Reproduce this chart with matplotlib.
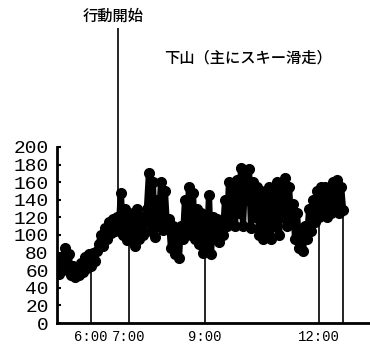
import numpy as np
import matplotlib.pyplot as plt

plt.rcParams['font.family'] = ['Noto Sans CJK JP', 'DejaVu Sans']

# heart rate readings, regular samples from 5:06 to 12:38
start_time = 5 + 6 / 60
end_time = 12 + 38 / 60
heart_rate = [62, 56, 75, 60, 85, 62, 78, 55, 65, 52, 60, 54, 68, 58, 75, 62, 78, 65,
              80, 70, 82, 90, 100, 88, 108, 95, 115, 102, 118, 105, 120, 110, 148, 100,
              130, 94, 120, 100, 125, 88, 130, 95, 120, 100, 115, 130, 170, 105, 160, 98,
              140, 110, 160, 106, 150, 110, 118, 85, 110, 78, 100, 74, 110, 95, 140, 105,
              155, 100, 148, 95, 130, 90, 125, 80, 115, 85, 145, 78, 120, 95, 118, 92,
              110, 100, 140, 110, 160, 120, 150, 110, 162, 125, 176, 110, 165, 140, 175,
              108, 160, 120, 155, 100, 150, 95, 140, 105, 155, 95, 145, 110, 160, 100,
              150, 120, 165, 110, 155, 115, 135, 95, 125, 85, 100, 82, 110, 95, 130, 105,
              140, 115, 150, 120, 155, 130, 155, 120, 150, 125, 160, 130, 162, 125, 155, 128]
times = np.linspace(start_time, end_time, len(heart_rate))

mark_times = [6.0, 7.0, 9.0, 12.0, end_time]
xtick_times = [6.0, 7.0, 9.0, 12.0]
xtick_labels = ['6:00', '7:00', '9:00', '12:00']
action_start = 6 + 43 / 60
yticks = list(range(0, 201, 20))

fig = plt.figure(figsize=(3.7, 3.52), dpi=100)
ax = fig.add_axes([57 / 370, 29 / 352, 313 / 370, 323 / 352])

ax.plot(times, heart_rate, color='black', lw=4.5, marker='o', ms=7, zorder=3)

mark_tops = np.interp(mark_times, times, heart_rate)
ax.vlines(mark_times, 0, mark_tops, color='black', lw=1.2)
ax.vlines(action_start, np.interp(action_start, times, heart_rate), 335,
          color='black', lw=1.2)

ax.set_xlim(5.105, 13.34)
ax.set_ylim(0, 367)

for s in ['top', 'right']:
    ax.spines[s].set_visible(False)
ax.spines['left'].set_bounds(0, 200)
ax.spines['left'].set_linewidth(2)
ax.spines['bottom'].set_linewidth(2)

ax.set_yticks(yticks)
ax.set_yticklabels([str(v) for v in yticks], family='Liberation Mono', fontsize=14)
ax.tick_params(axis='y', direction='in', length=3, width=1.5, pad=6)
ax.set_xticks(xtick_times)
ax.set_xticklabels(xtick_labels, family='Liberation Mono', fontsize=10)
ax.tick_params(axis='x', length=0, pad=5)

fig.text(113 / 370, 1 - 16 / 352, '行動開始', fontsize=11, weight='medium',
         ha='center', va='center')
fig.text(248 / 370, 1 - 58 / 352, '下山（主にスキー滑走）', fontsize=11, weight='medium',
         ha='center', va='center')

fig.savefig('out.png', dpi=100, facecolor='white')
